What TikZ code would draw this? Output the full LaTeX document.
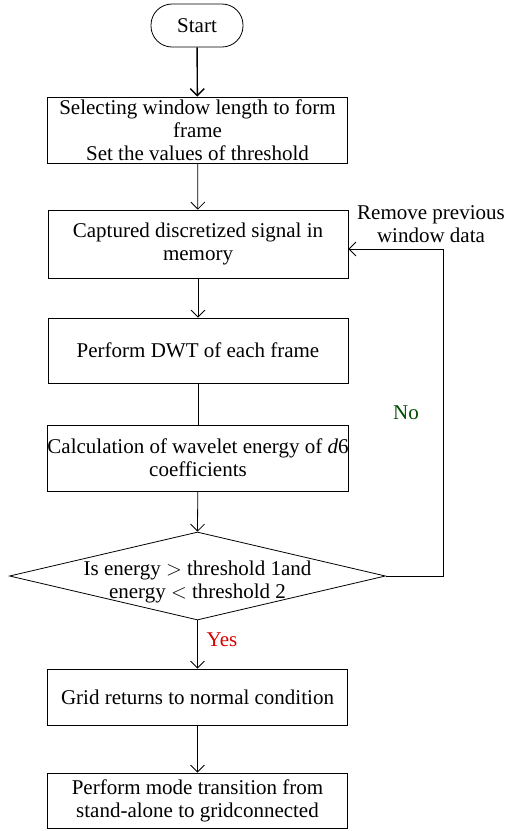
\documentclass[tikz,border=0pt]{standalone}
\usepackage{fontspec}
\setmainfont{Liberation Serif}
\usetikzlibrary{arrows.meta,shapes.geometric}
\tikzset{
  stepbox/.style={draw,line width=0.8pt,minimum width=300pt,align=center,inner sep=0pt},
  flow/.style={line width=0.8pt,-{Straight Barb[length=7pt,width=14pt]}},
}
\begin{document}
\begin{tikzpicture}[x=1pt,y=1pt,font=\fontsize{21}{23}\selectfont]
  \useasboundingbox (0,0) rectangle (504,-831);
  % terminal and process boxes
  \node[draw,line width=0.8pt,rounded corners=21pt,minimum width=92pt,minimum height=43pt] (start) at (197,-25.5) {Start};
  \node[stepbox,minimum height=66pt] (window) at (197.5,-130) {Selecting window length to form\\frame\\Set the values of threshold};
  \node[stepbox,minimum height=68pt] (capture) at (198,-244) {Captured discretized signal in\\memory};
  \node[stepbox,minimum height=65pt] (dwt) at (198,-350.5) {Perform DWT of each frame};
  \node[stepbox,minimum height=66pt] (energy) at (198,-458) {Calculation of wavelet energy of \textit{d}6\\coefficients};
  \node[draw,diamond,line width=0.8pt,minimum width=376pt,minimum height=88pt,inner sep=0pt] (check) at (197.5,-576) {};
  \node[align=center] (checktext) at ([yshift=-6pt]check.center) {Is energy $>$ threshold 1and\\energy $<$ threshold 2};
  \node[stepbox,minimum height=56pt] (normal) at (197.5,-697) {Grid returns to normal condition};
  \node[stepbox,minimum height=55pt] (mode) at (197.5,-800.5) {Perform mode transition from\\stand-alone to gridconnected};
  % labels
  \node[align=center] (remove) at (431,-224) {Remove previous\\window data};
  \node[text=green!30!black] (no) at (406,-413) {No};
  \node[text=red!85!black] (yes) at (222,-640) {Yes};
  % connectors
  \draw[flow,line width=1.4pt] (start) -- (window);
  \draw[flow] (window) -- (capture);
  \draw[flow] (capture) -- (dwt);
  \draw[line width=0.8pt] (dwt) -- (energy);
  \draw[flow] (energy) -- (check.north);
  \draw[flow] (check.south) -- (normal);
  \draw[flow] (normal) -- (mode);
  \draw[flow] (check.east) -- ++(57,0) |- ([yshift=-5pt]capture.east);
\end{tikzpicture}
\end{document}
